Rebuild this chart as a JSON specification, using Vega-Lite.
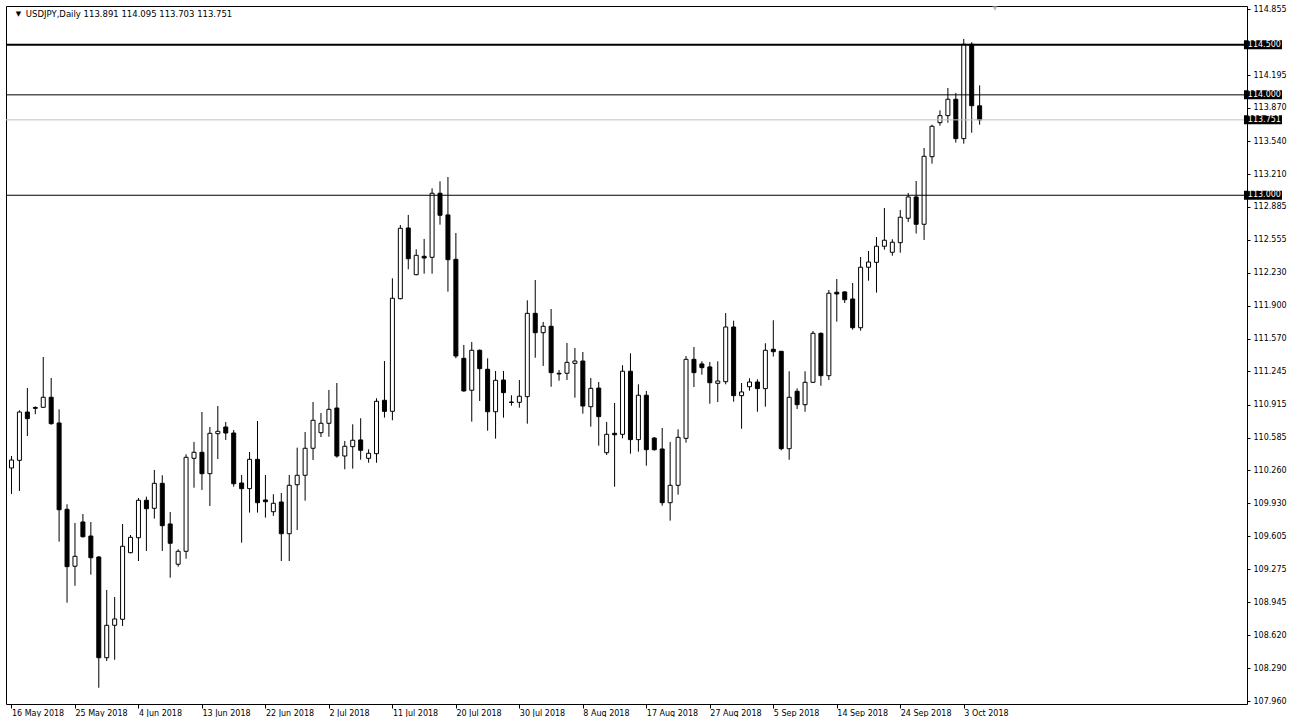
{
  "$schema": "https://vega.github.io/schema/vega-lite/v6.json",
  "width": 1241,
  "height": 698,
  "padding": {"left": 5, "top": 5, "right": 0, "bottom": 0},
  "autosize": {"type": "pad"},
  "background": "white",
  "config": {"view": {"stroke": "#000000", "strokeWidth": 1}, "font": "DejaVu Sans", "axis": {"labelOverlap": false, "labelFlush": false}, "axisY": {"labelOverlap": false}, "axisQuantitative": {"labelOverlap": false}},
  "datasets": {
    "candles": [
      {"i":0,"o":110.284,"h":110.403,"l":110.025,"c":110.363},
      {"i":1,"o":110.360,"h":110.858,"l":110.055,"c":110.841},
      {"i":2,"o":110.841,"h":111.080,"l":110.602,"c":110.775},
      {"i":3,"o":110.886,"h":110.898,"l":110.819,"c":110.878},
      {"i":4,"o":110.888,"h":111.389,"l":110.881,"c":110.988},
      {"i":5,"o":110.988,"h":111.180,"l":110.715,"c":110.725},
      {"i":6,"o":110.732,"h":110.868,"l":109.550,"c":109.868},
      {"i":7,"o":109.872,"h":109.922,"l":108.942,"c":109.301},
      {"i":8,"o":109.305,"h":109.736,"l":109.111,"c":109.404},
      {"i":9,"o":109.746,"h":109.826,"l":109.591,"c":109.599},
      {"i":10,"o":109.606,"h":109.746,"l":109.221,"c":109.390},
      {"i":11,"o":109.397,"h":109.407,"l":108.095,"c":108.394},
      {"i":12,"o":108.394,"h":109.069,"l":108.361,"c":108.717},
      {"i":13,"o":108.717,"h":108.999,"l":108.374,"c":108.780},
      {"i":14,"o":108.777,"h":109.726,"l":108.710,"c":109.504},
      {"i":15,"o":109.440,"h":109.616,"l":109.434,"c":109.593},
      {"i":16,"o":109.589,"h":109.985,"l":109.357,"c":109.962},
      {"i":17,"o":109.962,"h":109.998,"l":109.457,"c":109.878},
      {"i":18,"o":109.882,"h":110.264,"l":109.779,"c":110.131},
      {"i":19,"o":110.131,"h":110.211,"l":109.457,"c":109.709},
      {"i":20,"o":109.726,"h":109.845,"l":109.191,"c":109.534},
      {"i":21,"o":109.325,"h":109.474,"l":109.301,"c":109.454},
      {"i":22,"o":109.454,"h":110.420,"l":109.380,"c":110.390},
      {"i":23,"o":110.380,"h":110.543,"l":110.087,"c":110.440},
      {"i":24,"o":110.440,"h":110.841,"l":110.065,"c":110.227},
      {"i":25,"o":110.227,"h":110.692,"l":109.905,"c":110.629},
      {"i":26,"o":110.625,"h":110.901,"l":110.373,"c":110.649},
      {"i":27,"o":110.692,"h":110.742,"l":110.563,"c":110.632},
      {"i":28,"o":110.632,"h":110.662,"l":110.097,"c":110.127},
      {"i":29,"o":110.134,"h":110.214,"l":109.540,"c":110.078},
      {"i":30,"o":110.078,"h":110.443,"l":109.839,"c":110.370},
      {"i":31,"o":110.370,"h":110.752,"l":109.839,"c":109.938},
      {"i":32,"o":109.965,"h":110.214,"l":109.789,"c":109.948},
      {"i":33,"o":109.848,"h":110.022,"l":109.806,"c":109.932},
      {"i":34,"o":109.945,"h":110.035,"l":109.357,"c":109.629},
      {"i":35,"o":109.629,"h":110.214,"l":109.357,"c":110.111},
      {"i":36,"o":110.117,"h":110.486,"l":109.666,"c":110.211},
      {"i":37,"o":110.211,"h":110.642,"l":109.958,"c":110.480},
      {"i":38,"o":110.480,"h":110.941,"l":110.363,"c":110.759},
      {"i":39,"o":110.635,"h":110.831,"l":110.592,"c":110.729},
      {"i":40,"o":110.729,"h":111.061,"l":110.595,"c":110.868},
      {"i":41,"o":110.881,"h":111.130,"l":110.386,"c":110.403},
      {"i":42,"o":110.403,"h":110.553,"l":110.271,"c":110.500},
      {"i":43,"o":110.496,"h":110.719,"l":110.277,"c":110.560},
      {"i":44,"o":110.563,"h":110.779,"l":110.366,"c":110.460},
      {"i":45,"o":110.380,"h":110.470,"l":110.336,"c":110.430},
      {"i":46,"o":110.426,"h":110.978,"l":110.336,"c":110.948},
      {"i":47,"o":110.958,"h":111.349,"l":110.785,"c":110.848},
      {"i":48,"o":110.848,"h":112.173,"l":110.759,"c":111.974},
      {"i":49,"o":111.970,"h":112.704,"l":111.964,"c":112.671},
      {"i":50,"o":112.674,"h":112.804,"l":112.263,"c":112.368},
      {"i":51,"o":112.209,"h":112.462,"l":112.203,"c":112.402},
      {"i":52,"o":112.392,"h":112.565,"l":112.219,"c":112.375},
      {"i":53,"o":112.382,"h":113.069,"l":112.219,"c":113.020},
      {"i":54,"o":113.020,"h":113.139,"l":112.707,"c":112.801},
      {"i":55,"o":112.804,"h":113.182,"l":112.040,"c":112.358},
      {"i":56,"o":112.362,"h":112.624,"l":111.376,"c":111.399},
      {"i":57,"o":111.376,"h":111.509,"l":111.044,"c":111.051},
      {"i":58,"o":111.058,"h":111.539,"l":110.745,"c":111.456},
      {"i":59,"o":111.456,"h":111.464,"l":110.951,"c":111.273},
      {"i":60,"o":111.267,"h":111.376,"l":110.655,"c":110.844},
      {"i":61,"o":110.844,"h":111.250,"l":110.576,"c":111.157},
      {"i":62,"o":111.160,"h":111.250,"l":110.785,"c":111.034},
      {"i":63,"o":110.941,"h":111.008,"l":110.904,"c":110.936},
      {"i":64,"o":110.938,"h":111.160,"l":110.884,"c":110.998},
      {"i":65,"o":110.994,"h":111.954,"l":110.725,"c":111.824},
      {"i":66,"o":111.824,"h":112.156,"l":111.382,"c":111.631},
      {"i":67,"o":111.631,"h":111.738,"l":111.300,"c":111.695},
      {"i":68,"o":111.695,"h":111.867,"l":111.093,"c":111.233},
      {"i":69,"o":111.227,"h":111.260,"l":111.153,"c":111.220},
      {"i":70,"o":111.227,"h":111.529,"l":111.160,"c":111.336},
      {"i":71,"o":111.326,"h":111.479,"l":110.984,"c":111.349},
      {"i":72,"o":111.349,"h":111.439,"l":110.825,"c":110.901},
      {"i":73,"o":110.894,"h":111.180,"l":110.695,"c":111.077},
      {"i":74,"o":111.080,"h":111.140,"l":110.506,"c":110.795},
      {"i":75,"o":110.436,"h":110.742,"l":110.413,"c":110.619},
      {"i":76,"o":110.629,"h":110.931,"l":110.097,"c":110.615},
      {"i":77,"o":110.619,"h":111.307,"l":110.579,"c":111.247},
      {"i":78,"o":111.247,"h":111.426,"l":110.426,"c":110.566},
      {"i":79,"o":110.566,"h":111.117,"l":110.446,"c":111.008},
      {"i":80,"o":111.008,"h":111.051,"l":110.307,"c":110.466},
      {"i":81,"o":110.582,"h":110.592,"l":110.456,"c":110.466},
      {"i":82,"o":110.473,"h":110.682,"l":109.908,"c":109.938},
      {"i":83,"o":109.938,"h":110.543,"l":109.759,"c":110.111},
      {"i":84,"o":110.111,"h":110.669,"l":110.018,"c":110.589},
      {"i":85,"o":110.579,"h":111.399,"l":110.536,"c":111.366},
      {"i":86,"o":111.366,"h":111.489,"l":111.090,"c":111.233},
      {"i":87,"o":111.320,"h":111.346,"l":111.213,"c":111.283},
      {"i":88,"o":111.290,"h":111.339,"l":110.924,"c":111.133},
      {"i":89,"o":111.127,"h":111.346,"l":110.941,"c":111.150},
      {"i":90,"o":111.143,"h":111.827,"l":111.117,"c":111.688},
      {"i":91,"o":111.688,"h":111.751,"l":110.944,"c":111.004},
      {"i":92,"o":111.004,"h":111.130,"l":110.675,"c":111.041},
      {"i":93,"o":111.093,"h":111.177,"l":111.054,"c":111.140},
      {"i":94,"o":111.140,"h":111.167,"l":110.844,"c":111.074},
      {"i":95,"o":111.074,"h":111.526,"l":110.894,"c":111.456},
      {"i":96,"o":111.466,"h":111.755,"l":111.394,"c":111.442},
      {"i":97,"o":111.446,"h":111.449,"l":110.460,"c":110.476},
      {"i":98,"o":110.476,"h":111.247,"l":110.366,"c":110.988},
      {"i":99,"o":111.048,"h":111.077,"l":110.871,"c":110.914},
      {"i":100,"o":110.914,"h":111.247,"l":110.844,"c":111.137},
      {"i":101,"o":111.137,"h":111.648,"l":111.133,"c":111.625},
      {"i":102,"o":111.625,"h":111.633,"l":111.103,"c":111.203},
      {"i":103,"o":111.203,"h":112.057,"l":111.160,"c":112.024},
      {"i":104,"o":112.034,"h":112.166,"l":111.741,"c":112.017},
      {"i":105,"o":112.037,"h":112.044,"l":111.927,"c":111.960},
      {"i":106,"o":111.967,"h":112.126,"l":111.661,"c":111.681},
      {"i":107,"o":111.681,"h":112.385,"l":111.651,"c":112.283},
      {"i":108,"o":112.283,"h":112.445,"l":112.149,"c":112.335},
      {"i":109,"o":112.332,"h":112.584,"l":112.030,"c":112.492},
      {"i":110,"o":112.492,"h":112.873,"l":112.458,"c":112.552},
      {"i":111,"o":112.432,"h":112.562,"l":112.398,"c":112.532},
      {"i":112,"o":112.528,"h":112.853,"l":112.428,"c":112.781},
      {"i":113,"o":112.771,"h":113.023,"l":112.734,"c":112.983},
      {"i":114,"o":112.983,"h":113.142,"l":112.619,"c":112.711},
      {"i":115,"o":112.711,"h":113.471,"l":112.555,"c":113.388},
      {"i":116,"o":113.384,"h":113.703,"l":113.315,"c":113.687},
      {"i":117,"o":113.723,"h":113.846,"l":113.693,"c":113.793},
      {"i":118,"o":113.793,"h":114.068,"l":113.723,"c":113.956},
      {"i":119,"o":113.956,"h":114.019,"l":113.524,"c":113.564},
      {"i":120,"o":113.564,"h":114.557,"l":113.514,"c":114.504},
      {"i":121,"o":114.504,"h":114.524,"l":113.623,"c":113.892},
      {"i":122,"o":113.891,"h":114.095,"l":113.703,"c":113.751}
    ],
    "levels": [{"p":114.5},{"p":114.0},{"p":113.751},{"p":113.0}],
    "header": [{"t": "USDJPY,Daily  113.891 114.095 113.703 113.751", "m": "▼"}]
  },
  "layer": [
    {
      "data": {"name": "candles"},
      "mark": {"type": "rule", "color": "#000000", "strokeWidth": 1},
      "encoding": {
        "x": {"field": "i", "type": "quantitative",
              "scale": {"domain": [-0.0625, 155.0625], "nice": false, "zero": false},
              "axis": {"orient": "bottom", "values": [0,8,16,24,32,40,48,56,64,72,80,88,96,104,112,120],
                       "labelExpr": "['16 May 2018','25 May 2018','4 Jun 2018','13 Jun 2018','22 Jun 2018','2 Jul 2018','11 Jul 2018','20 Jul 2018','30 Jul 2018','8 Aug 2018','17 Aug 2018','27 Aug 2018','5 Sep 2018','14 Sep 2018','24 Sep 2018','3 Oct 2018'][round(datum.value/8)]",
                       "tickSize": 4, "tickColor": "#000000", "labelAlign": "left", "labelBaseline": "top", "labelPadding": 1,
                       "labelFont": "DejaVu Sans", "labelFontSize": 8, "labelColor": "#000000",
                       "domain": false, "grid": false, "title": null, "labelOverlap": false, "labelFlush": false}},
        "y": {"field": "l", "type": "quantitative",
              "scale": {"domain": [107.933, 114.885], "nice": false, "zero": false},
              "axis": {"orient": "right", "values": [114.855,114.195,113.870,113.540,113.210,112.885,112.555,112.230,111.900,111.570,111.245,110.915,110.585,110.260,109.930,109.605,109.275,108.945,108.620,108.290,107.960],
                       "format": ".3f", "tickSize": 3, "tickColor": "#000000", "labelPadding": 3,
                       "labelFont": "DejaVu Sans", "labelFontSize": 8, "labelColor": "#000000",
                       "domain": false, "grid": false, "title": null, "labelOverlap": false, "labelFlush": false}},
        "y2": {"field": "h"}
      }
    },
    {
      "data": {"name": "candles"},
      "mark": {"type": "bar", "size": 4, "stroke": "#000000", "strokeWidth": 1},
      "encoding": {
        "x": {"field": "i", "type": "quantitative", "scale": {"domain": [-0.0625, 155.0625], "nice": false, "zero": false},
              "axis": {"orient": "bottom", "values": [0,8,16,24,32,40,48,56,64,72,80,88,96,104,112,120],
                       "labelExpr": "['16 May 2018','25 May 2018','4 Jun 2018','13 Jun 2018','22 Jun 2018','2 Jul 2018','11 Jul 2018','20 Jul 2018','30 Jul 2018','8 Aug 2018','17 Aug 2018','27 Aug 2018','5 Sep 2018','14 Sep 2018','24 Sep 2018','3 Oct 2018'][round(datum.value/8)]",
                       "tickSize": 4, "tickColor": "#000000", "labelAlign": "left", "labelBaseline": "top", "labelPadding": 1,
                       "labelFont": "DejaVu Sans", "labelFontSize": 8, "labelColor": "#000000",
                       "domain": false, "grid": false, "title": null, "labelOverlap": false, "labelFlush": false}},
        "y": {"field": "o", "type": "quantitative", "scale": {"domain": [107.933, 114.885], "nice": false, "zero": false},
              "axis": {"orient": "right", "values": [114.855,114.195,113.870,113.540,113.210,112.885,112.555,112.230,111.900,111.570,111.245,110.915,110.585,110.260,109.930,109.605,109.275,108.945,108.620,108.290,107.960],
                       "format": ".3f", "tickSize": 3, "tickColor": "#000000", "labelPadding": 3,
                       "labelFont": "DejaVu Sans", "labelFontSize": 8, "labelColor": "#000000",
                       "domain": false, "grid": false, "title": null, "labelOverlap": false, "labelFlush": false}},
        "y2": {"field": "c"},
        "fill": {"condition": {"test": "datum.c < datum.o", "value": "#000000"}, "value": "#ffffff"}
      }
    },
    {
      "data": {"name": "levels"},
      "mark": {"type": "rule"},
      "encoding": {
        "y": {"field": "p", "type": "quantitative", "scale": {"domain": [107.933, 114.885], "nice": false, "zero": false},
              "axis": {"orient": "right", "values": [114.855,114.195,113.870,113.540,113.210,112.885,112.555,112.230,111.900,111.570,111.245,110.915,110.585,110.260,109.930,109.605,109.275,108.945,108.620,108.290,107.960],
                       "format": ".3f", "tickSize": 3, "tickColor": "#000000", "labelPadding": 3,
                       "labelFont": "DejaVu Sans", "labelFontSize": 8, "labelColor": "#000000",
                       "domain": false, "grid": false, "title": null, "labelOverlap": false, "labelFlush": false}},
        "color": {"condition": {"test": "datum.p == 113.751", "value": "#c0c0c0"}, "value": "#000000"},
        "strokeWidth": {"condition": {"test": "datum.p == 114.5", "value": 2}, "value": 1}
      }
    },
    {
      "data": {"name": "levels"},
      "mark": {"type": "rule", "color": "#000000", "strokeWidth": 9, "strokeCap": "butt", "clip": false},
      "encoding": {
        "x": {"datum": 155.31, "type": "quantitative", "scale": {"domain": [-0.0625, 155.0625], "nice": false, "zero": false},
              "axis": {"orient": "bottom", "values": [0,8,16,24,32,40,48,56,64,72,80,88,96,104,112,120],
                       "labelExpr": "['16 May 2018','25 May 2018','4 Jun 2018','13 Jun 2018','22 Jun 2018','2 Jul 2018','11 Jul 2018','20 Jul 2018','30 Jul 2018','8 Aug 2018','17 Aug 2018','27 Aug 2018','5 Sep 2018','14 Sep 2018','24 Sep 2018','3 Oct 2018'][round(datum.value/8)]",
                       "tickSize": 4, "tickColor": "#000000", "labelAlign": "left", "labelBaseline": "top", "labelPadding": 1,
                       "labelFont": "DejaVu Sans", "labelFontSize": 8, "labelColor": "#000000",
                       "domain": false, "grid": false, "title": null, "labelOverlap": false, "labelFlush": false}},
        "x2": {"datum": 160.1},
        "y": {"field": "p", "type": "quantitative", "scale": {"domain": [107.933, 114.885], "nice": false, "zero": false},
              "axis": {"orient": "right", "values": [114.855,114.195,113.870,113.540,113.210,112.885,112.555,112.230,111.900,111.570,111.245,110.915,110.585,110.260,109.930,109.605,109.275,108.945,108.620,108.290,107.960],
                       "format": ".3f", "tickSize": 3, "tickColor": "#000000", "labelPadding": 3,
                       "labelFont": "DejaVu Sans", "labelFontSize": 8, "labelColor": "#000000",
                       "domain": false, "grid": false, "title": null, "labelOverlap": false, "labelFlush": false}}
      }
    },
    {
      "data": {"name": "levels"},
      "mark": {"type": "text", "color": "#ffffff", "font": "DejaVu Sans", "fontSize": 8, "align": "left", "baseline": "middle", "clip": false},
      "encoding": {
        "x": {"datum": 155.8, "type": "quantitative", "scale": {"domain": [-0.0625, 155.0625], "nice": false, "zero": false},
              "axis": {"orient": "bottom", "values": [0,8,16,24,32,40,48,56,64,72,80,88,96,104,112,120],
                       "labelExpr": "['16 May 2018','25 May 2018','4 Jun 2018','13 Jun 2018','22 Jun 2018','2 Jul 2018','11 Jul 2018','20 Jul 2018','30 Jul 2018','8 Aug 2018','17 Aug 2018','27 Aug 2018','5 Sep 2018','14 Sep 2018','24 Sep 2018','3 Oct 2018'][round(datum.value/8)]",
                       "tickSize": 4, "tickColor": "#000000", "labelAlign": "left", "labelBaseline": "top", "labelPadding": 1,
                       "labelFont": "DejaVu Sans", "labelFontSize": 8, "labelColor": "#000000",
                       "domain": false, "grid": false, "title": null, "labelOverlap": false, "labelFlush": false}},
        "y": {"field": "p", "type": "quantitative", "scale": {"domain": [107.933, 114.885], "nice": false, "zero": false},
              "axis": {"orient": "right", "values": [114.855,114.195,113.870,113.540,113.210,112.885,112.555,112.230,111.900,111.570,111.245,110.915,110.585,110.260,109.930,109.605,109.275,108.945,108.620,108.290,107.960],
                       "format": ".3f", "tickSize": 3, "tickColor": "#000000", "labelPadding": 3,
                       "labelFont": "DejaVu Sans", "labelFontSize": 8, "labelColor": "#000000",
                       "domain": false, "grid": false, "title": null, "labelOverlap": false, "labelFlush": false}},
        "text": {"field": "p", "type": "quantitative", "format": ".3f"}
      }
    },
    {
      "data": {"name": "header"},
      "mark": {"type": "text", "color": "#000000", "font": "DejaVu Sans", "fontSize": 8.5, "align": "left", "baseline": "middle"},
      "encoding": {
        "x": {"datum": 1.81, "type": "quantitative", "scale": {"domain": [-0.0625, 155.0625], "nice": false, "zero": false},
              "axis": {"orient": "bottom", "values": [0,8,16,24,32,40,48,56,64,72,80,88,96,104,112,120],
                       "labelExpr": "['16 May 2018','25 May 2018','4 Jun 2018','13 Jun 2018','22 Jun 2018','2 Jul 2018','11 Jul 2018','20 Jul 2018','30 Jul 2018','8 Aug 2018','17 Aug 2018','27 Aug 2018','5 Sep 2018','14 Sep 2018','24 Sep 2018','3 Oct 2018'][round(datum.value/8)]",
                       "tickSize": 4, "tickColor": "#000000", "labelAlign": "left", "labelBaseline": "top", "labelPadding": 1,
                       "labelFont": "DejaVu Sans", "labelFontSize": 8, "labelColor": "#000000",
                       "domain": false, "grid": false, "title": null, "labelOverlap": false, "labelFlush": false}},
        "y": {"datum": 114.802, "type": "quantitative", "scale": {"domain": [107.933, 114.885], "nice": false, "zero": false},
              "axis": {"orient": "right", "values": [114.855,114.195,113.870,113.540,113.210,112.885,112.555,112.230,111.900,111.570,111.245,110.915,110.585,110.260,109.930,109.605,109.275,108.945,108.620,108.290,107.960],
                       "format": ".3f", "tickSize": 3, "tickColor": "#000000", "labelPadding": 3,
                       "labelFont": "DejaVu Sans", "labelFontSize": 8, "labelColor": "#000000",
                       "domain": false, "grid": false, "title": null, "labelOverlap": false, "labelFlush": false}},
        "text": {"field": "t"}
      }
    },
    {
      "data": {"name": "header"},
      "mark": {"type": "text", "color": "#000000", "font": "DejaVu Sans", "fontSize": 7, "align": "center", "baseline": "middle"},
      "encoding": {
        "x": {"datum": 0.875, "type": "quantitative", "scale": {"domain": [-0.0625, 155.0625], "nice": false, "zero": false},
              "axis": {"orient": "bottom", "values": [0,8,16,24,32,40,48,56,64,72,80,88,96,104,112,120],
                       "labelExpr": "['16 May 2018','25 May 2018','4 Jun 2018','13 Jun 2018','22 Jun 2018','2 Jul 2018','11 Jul 2018','20 Jul 2018','30 Jul 2018','8 Aug 2018','17 Aug 2018','27 Aug 2018','5 Sep 2018','14 Sep 2018','24 Sep 2018','3 Oct 2018'][round(datum.value/8)]",
                       "tickSize": 4, "tickColor": "#000000", "labelAlign": "left", "labelBaseline": "top", "labelPadding": 1,
                       "labelFont": "DejaVu Sans", "labelFontSize": 8, "labelColor": "#000000",
                       "domain": false, "grid": false, "title": null, "labelOverlap": false, "labelFlush": false}},
        "y": {"datum": 114.802, "type": "quantitative", "scale": {"domain": [107.933, 114.885], "nice": false, "zero": false},
              "axis": {"orient": "right", "values": [114.855,114.195,113.870,113.540,113.210,112.885,112.555,112.230,111.900,111.570,111.245,110.915,110.585,110.260,109.930,109.605,109.275,108.945,108.620,108.290,107.960],
                       "format": ".3f", "tickSize": 3, "tickColor": "#000000", "labelPadding": 3,
                       "labelFont": "DejaVu Sans", "labelFontSize": 8, "labelColor": "#000000",
                       "domain": false, "grid": false, "title": null, "labelOverlap": false, "labelFlush": false}},
        "text": {"field": "m"}
      }
    },
    {
      "data": {"name": "header"},
      "mark": {"type": "point", "shape": "triangle-down", "filled": true, "color": "#a0a0a0", "size": 30},
      "encoding": {
        "x": {"datum": 123.94, "type": "quantitative", "scale": {"domain": [-0.0625, 155.0625], "nice": false, "zero": false},
              "axis": {"orient": "bottom", "values": [0,8,16,24,32,40,48,56,64,72,80,88,96,104,112,120],
                       "labelExpr": "['16 May 2018','25 May 2018','4 Jun 2018','13 Jun 2018','22 Jun 2018','2 Jul 2018','11 Jul 2018','20 Jul 2018','30 Jul 2018','8 Aug 2018','17 Aug 2018','27 Aug 2018','5 Sep 2018','14 Sep 2018','24 Sep 2018','3 Oct 2018'][round(datum.value/8)]",
                       "tickSize": 4, "tickColor": "#000000", "labelAlign": "left", "labelBaseline": "top", "labelPadding": 1,
                       "labelFont": "DejaVu Sans", "labelFontSize": 8, "labelColor": "#000000",
                       "domain": false, "grid": false, "title": null, "labelOverlap": false, "labelFlush": false}},
        "y": {"datum": 114.862, "type": "quantitative", "scale": {"domain": [107.933, 114.885], "nice": false, "zero": false},
              "axis": {"orient": "right", "values": [114.855,114.195,113.870,113.540,113.210,112.885,112.555,112.230,111.900,111.570,111.245,110.915,110.585,110.260,109.930,109.605,109.275,108.945,108.620,108.290,107.960],
                       "format": ".3f", "tickSize": 3, "tickColor": "#000000", "labelPadding": 3,
                       "labelFont": "DejaVu Sans", "labelFontSize": 8, "labelColor": "#000000",
                       "domain": false, "grid": false, "title": null, "labelOverlap": false, "labelFlush": false}}
      }
    }
  ]
}
